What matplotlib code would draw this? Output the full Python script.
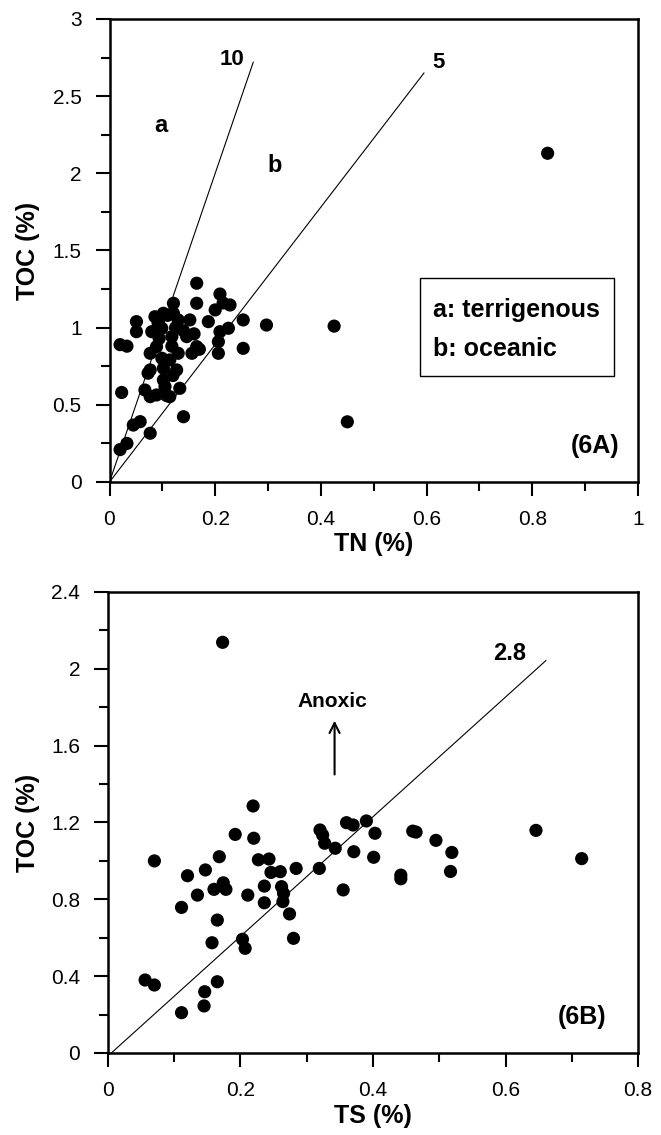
import matplotlib
matplotlib.use("Agg")
import matplotlib.pyplot as plt
from matplotlib.patches import Rectangle
from matplotlib.ticker import MultipleLocator

plt.rcParams['font.family'] = ['Liberation Sans', 'DejaVu Sans']

# --- panel 6A: TN (%) vs TOC (%) ---
tn = [0.165, 0.209, 0.228, 0.165, 0.121, 0.200, 0.187, 0.253, 0.297, 0.253,
      0.225, 0.209, 0.206, 0.206, 0.051, 0.051, 0.152, 0.130, 0.086, 0.099,
      0.080, 0.077, 0.089, 0.118, 0.146, 0.165, 0.156, 0.130, 0.114, 0.099,
      0.077, 0.102, 0.127, 0.073, 0.102, 0.105, 0.067, 0.133, 0.089, 0.114,
      0.077, 0.140, 0.058, 0.045, 0.077, 0.020, 0.033, 0.023, 0.020, 0.033,
      0.829, 0.425, 0.450, 0.092, 0.110, 0.125, 0.140, 0.160, 0.170, 0.215,
      0.118, 0.094, 0.108, 0.120, 0.102, 0.121]
toc_a = [1.288, 1.218, 1.147, 1.158, 1.158, 1.115, 1.039, 1.050, 1.017, 0.866,
         0.996, 0.974, 0.834, 0.909, 1.039, 0.974, 1.050, 1.050, 1.071, 0.996,
         0.974, 0.834, 0.877, 0.942, 0.942, 0.877, 0.834, 0.834, 0.791, 0.802,
         0.726, 0.737, 0.726, 0.705, 0.661, 0.618, 0.596, 0.607, 0.564, 0.553,
         0.553, 0.423, 0.391, 0.369, 0.316, 0.210, 0.250, 0.580, 0.890, 0.880,
         2.130, 1.010, 0.390, 1.030, 1.080, 1.000, 0.980, 0.960, 0.860, 1.160,
         0.880, 0.930, 0.560, 0.690, 1.093, 1.093]

# --- panel 6B: TS (%) vs TOC (%) ---
ts = [0.219, 0.192, 0.220, 0.070, 0.168, 0.227, 0.243, 0.120, 0.147, 0.246,
      0.260, 0.284, 0.320, 0.324, 0.327, 0.343, 0.360, 0.370, 0.390, 0.403,
      0.371, 0.401, 0.319, 0.355, 0.135, 0.111, 0.160, 0.174, 0.178, 0.211,
      0.236, 0.236, 0.262, 0.265, 0.264, 0.274, 0.280, 0.165, 0.157, 0.203,
      0.207, 0.056, 0.070, 0.165, 0.146, 0.145, 0.111, 0.442, 0.442, 0.460,
      0.465, 0.495, 0.519, 0.517, 0.646, 0.715, 0.173]
toc_b = [1.286, 1.138, 1.118, 1.000, 1.022, 1.006, 1.010, 0.923, 0.953, 0.940,
         0.944, 0.961, 1.161, 1.135, 1.092, 1.066, 1.199, 1.187, 1.208, 1.144,
         1.048, 1.019, 0.961, 0.849, 0.822, 0.758, 0.852, 0.886, 0.852, 0.822,
         0.869, 0.782, 0.866, 0.831, 0.788, 0.724, 0.597, 0.692, 0.574, 0.592,
         0.545, 0.380, 0.354, 0.371, 0.319, 0.245, 0.210, 0.926, 0.907, 1.155,
         1.150, 1.107, 1.044, 0.945, 1.159, 1.012, 2.138]

# reference lines as drawn on the original figure
c_n10_x = [0.0, 0.272]
c_n10_y = [0.0, 2.72]
c_n5_x = [0.0, 0.595]
c_n5_y = [0.0, 2.65]
c_s_x = [0.005, 0.661]
c_s_y = [0.0, 2.043]

W, H = 661, 1135
fig = plt.figure(figsize=(W / 100, H / 100), dpi=100)
ax1 = fig.add_axes([109.5 / W, 1 - 482 / H, 528.5 / W, 463 / H])
ax2 = fig.add_axes([108 / W, 1 - 1053 / H, 530 / W, 461 / H])

dot = dict(s=90, color='black', edgecolors='none', zorder=3)
tick_font = 15
lab_font = 18


def style_axes(ax, xmaj, xmin, ymaj, ymin):
    for sp in ax.spines.values():
        sp.set_linewidth(1.8)
    ax.xaxis.set_major_locator(MultipleLocator(xmaj))
    ax.xaxis.set_minor_locator(MultipleLocator(xmin))
    ax.yaxis.set_major_locator(MultipleLocator(ymaj))
    ax.yaxis.set_minor_locator(MultipleLocator(ymin))
    ax.tick_params(which='both', direction='out', width=1.5, top=False, right=False)
    ax.tick_params(which='major', length=10, pad=10, labelsize=tick_font)
    ax.tick_params(which='minor', length=6.5)
    ax.xaxis.set_major_formatter(plt.FuncFormatter(lambda v, p: f'{v:g}'))
    ax.yaxis.set_major_formatter(plt.FuncFormatter(lambda v, p: f'{v:g}'))


# ---- 6A ----
ax1.plot(c_n10_x, c_n10_y, color='black', lw=0.8)
ax1.plot(c_n5_x, c_n5_y, color='black', lw=0.8)
ax1.scatter(tn, toc_a, **dot)
ax1.set_xlim(0, 1)
ax1.set_ylim(0, 3)
style_axes(ax1, 0.2, 0.1, 0.5, 0.25)
ax1.set_xlabel('TN (%)', fontsize=lab_font, fontweight='bold')
ax1.set_ylabel('TOC (%)', fontsize=lab_font, fontweight='bold')
ax1.xaxis.set_label_coords(0.5, -0.108)
ax1.yaxis.set_label_coords(-0.132, 0.5)

ax1.text(0.232, 2.74, '10', fontsize=16, fontweight='bold', ha='center', va='center')
ax1.text(0.622, 2.72, '5', fontsize=16, fontweight='bold', ha='center', va='center')
ax1.text(0.097, 2.31, 'a', fontsize=17, fontweight='bold', ha='center', va='center')
ax1.text(0.313, 2.05, 'b', fontsize=17, fontweight='bold', ha='center', va='center')
ax1.add_patch(Rectangle((0.588, 0.69), 0.367, 0.63, fill=False, lw=1.0, color='black'))
ax1.text(0.612, 1.116, 'a: terrigenous', fontsize=18, fontweight='bold', va='center')
ax1.text(0.612, 0.86, 'b: oceanic', fontsize=18, fontweight='bold', va='center')
ax1.text(0.965, 0.233, '(6A)', fontsize=18, fontweight='bold', ha='right', va='center')

# ---- 6B ----
ax2.plot(c_s_x, c_s_y, color='black', lw=0.8)
ax2.scatter(ts, toc_b, **dot)
ax2.set_xlim(0, 0.8)
ax2.set_ylim(0, 2.4)
style_axes(ax2, 0.2, 0.1, 0.4, 0.2)
ax2.set_xlabel('TS (%)', fontsize=lab_font, fontweight='bold')
ax2.set_ylabel('TOC (%)', fontsize=lab_font, fontweight='bold')
ax2.xaxis.set_label_coords(0.5, -0.110)
ax2.yaxis.set_label_coords(-0.128, 0.5)

ax2.text(0.606, 2.08, '2.8', fontsize=17, fontweight='bold', ha='center', va='center')
ax2.text(0.339, 1.83, 'Anoxic', fontsize=15, fontweight='bold', ha='center', va='center')
ax2.annotate('', xy=(0.342, 1.73), xytext=(0.342, 1.45),
             arrowprops=dict(arrowstyle='->', lw=1.5, color='black',
                             mutation_scale=18, shrinkA=0, shrinkB=0))
ax2.text(0.752, 0.19, '(6B)', fontsize=18, fontweight='bold', ha='right', va='center')

fig.savefig('out.png', dpi=100)
